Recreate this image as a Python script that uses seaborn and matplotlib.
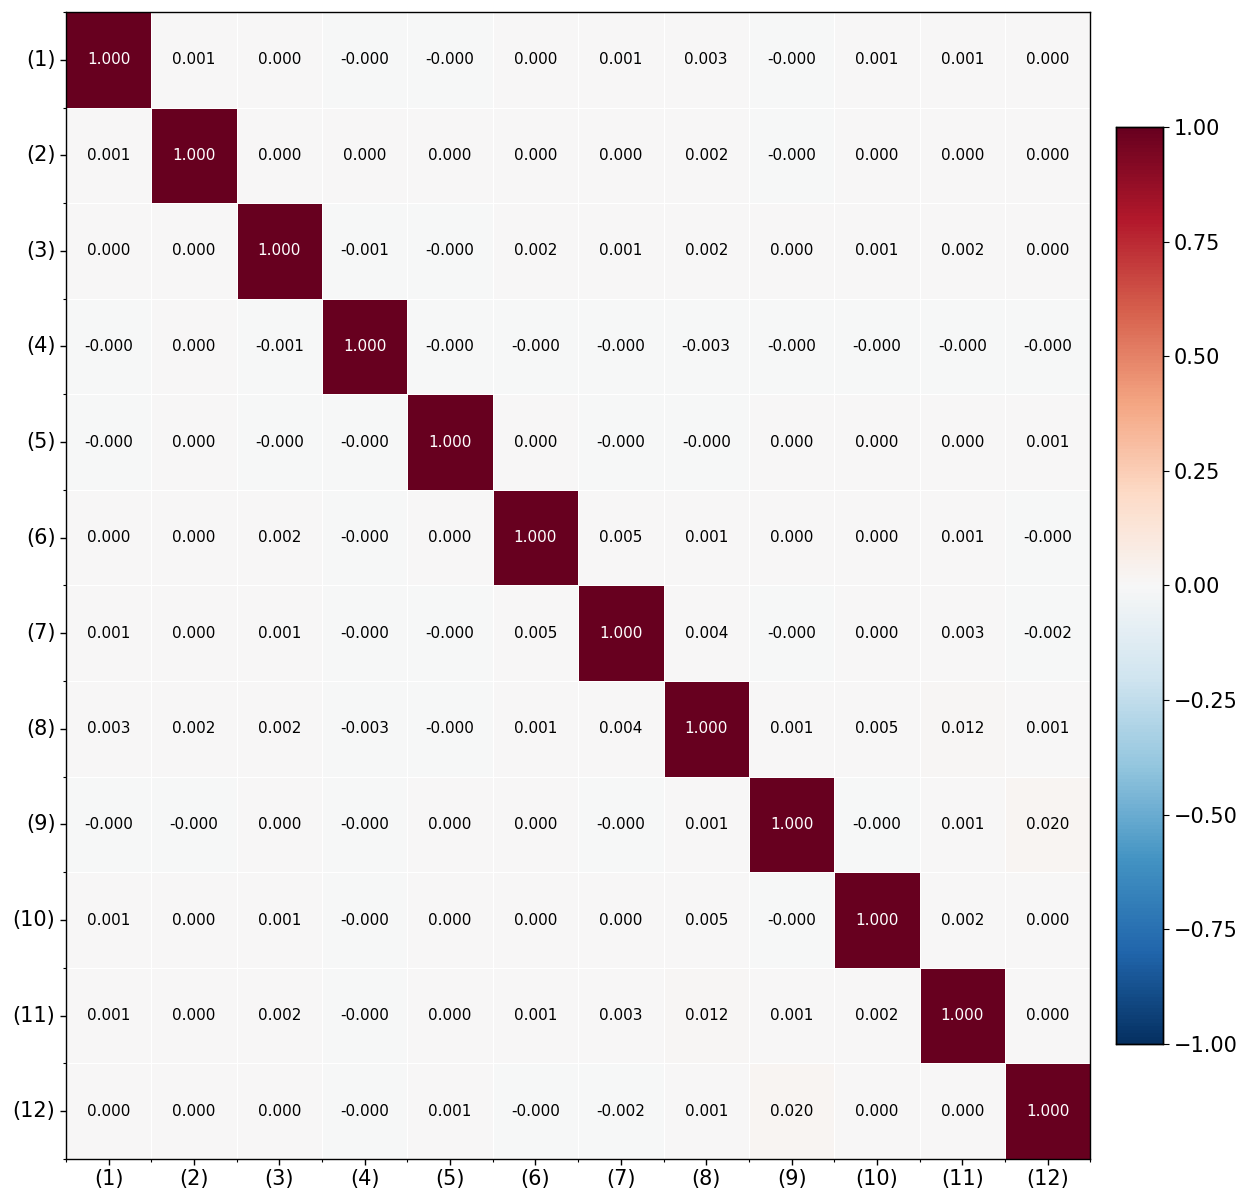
import numpy as np
import pandas as pd
import matplotlib
matplotlib.use("Agg")
import matplotlib.pyplot as plt
import seaborn as sns

labels = [f"({i})" for i in range(1, 13)]

# Correlation matrix rows (small negatives print as -0.000)
z = -0.0002
row01 = [1.000, 0.001, 0.000, z, z, 0.000, 0.001, 0.003, z, 0.001, 0.001, 0.000]
row02 = [0.001, 1.000, 0.000, 0.000, 0.000, 0.000, 0.000, 0.002, z, 0.000, 0.000, 0.000]
row03 = [0.000, 0.000, 1.000, -0.001, z, 0.002, 0.001, 0.002, 0.000, 0.001, 0.002, 0.000]
row04 = [z, 0.000, -0.001, 1.000, z, z, z, -0.003, z, z, z, z]
row05 = [z, 0.000, z, z, 1.000, 0.000, z, z, 0.000, 0.000, 0.000, 0.001]
row06 = [0.000, 0.000, 0.002, z, 0.000, 1.000, 0.005, 0.001, 0.000, 0.000, 0.001, z]
row07 = [0.001, 0.000, 0.001, z, z, 0.005, 1.000, 0.004, z, 0.000, 0.003, -0.002]
row08 = [0.003, 0.002, 0.002, -0.003, z, 0.001, 0.004, 1.000, 0.001, 0.005, 0.012, 0.001]
row09 = [z, z, 0.000, z, 0.000, 0.000, z, 0.001, 1.000, z, 0.001, 0.020]
row10 = [0.001, 0.000, 0.001, z, 0.000, 0.000, 0.000, 0.005, z, 1.000, 0.002, 0.000]
row11 = [0.001, 0.000, 0.002, z, 0.000, 0.001, 0.003, 0.012, 0.001, 0.002, 1.000, 0.000]
row12 = [0.000, 0.000, 0.000, z, 0.001, z, -0.002, 0.001, 0.020, 0.000, 0.000, 1.000]

corr = pd.DataFrame([row01, row02, row03, row04, row05, row06, row07, row08,
                     row09, row10, row11, row12], index=labels, columns=labels)

fig = plt.figure(figsize=(12.42, 11.93), dpi=100)
ax = fig.add_axes([0.053, 0.0285, 0.825, 0.9615])
cax = fig.add_axes([0.8986, 0.1249, 0.0378, 0.7687])

sns.heatmap(corr, ax=ax, cbar_ax=cax, cmap="RdBu_r", vmin=-1, vmax=1,
            annot=True, fmt=".3f", annot_kws={"fontsize": 11},
            linewidths=0.6, linecolor="white", square=False)

# Annotation colours: white on dark cells, black elsewhere
for txt, val in zip(ax.texts, corr.values.ravel()):
    txt.set_color("white" if abs(val) > 0.5 else "black")

for sp in ax.spines.values():
    sp.set_visible(True)
    sp.set_color("black")
    sp.set_linewidth(1.0)

ax.set_xticks(np.arange(12) + 0.5)
ax.set_yticks(np.arange(12) + 0.5)
ax.set_xticklabels(labels, fontsize=15, rotation=0)
ax.set_yticklabels(labels, fontsize=15, rotation=0)
ax.set_xticks(np.arange(13), minor=True)
ax.set_yticks(np.arange(13), minor=True)
ax.tick_params(which="major", length=4, width=1)
ax.tick_params(which="minor", length=2.5, width=0.8)
ax.set_xlabel("")
ax.set_ylabel("")

cax.tick_params(labelsize=15, length=4)
cax.set_yticks([-1, -0.75, -0.5, -0.25, 0, 0.25, 0.5, 0.75, 1])
cax.set_yticklabels(["\u22121.00", "\u22120.75", "\u22120.50", "\u22120.25", "0.00",
                     "0.25", "0.50", "0.75", "1.00"])
for sp in cax.spines.values():
    sp.set_visible(True)
    sp.set_color("black")
    sp.set_linewidth(1.0)

fig.savefig("out.png", dpi=100)
